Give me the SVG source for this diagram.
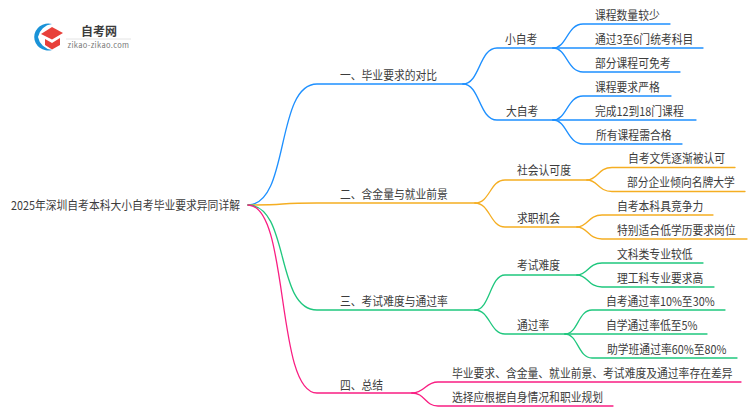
<svg xmlns="http://www.w3.org/2000/svg" width="750" height="410" viewBox="0 0 750 410">
<style>
text{font-family:"Noto Sans CJK SC","Noto Sans",sans-serif;font-size:12px;fill:#3c3c3c}
.c path{fill:none;stroke-width:1.3;stroke-linecap:round}
.b path{stroke:#1e90ff}.o path{stroke:#f5ae22}.g path{stroke:#1fc77e}.p path{stroke:#f91e82}
</style>
<rect width="750" height="410" fill="#fff"/>
<g id="logo">
<path d="M52 24A14 13.500 0 1 0 52 50A16 16 0 0 1 38 37A16 16 0 0 1 52 24Z" fill="#1a93d8"/>
<path d="M41 34L52 27L63 33L52 39.500Z" fill="#e8403a"/>
<path d="M45 39L52 43L60 38V45L52 49.500L45 45Z" fill="#e8403a"/>
<text x="81" y="36" style="font-size:12px;font-weight:700">自考网</text>
<path d="M66 39H131" stroke="#e4e4e4" stroke-width="1"/>
<text x="67.500" y="48" style="font-size:7.5px;fill:#777;letter-spacing:.35px">zikao-zikao.com</text>
</g>
<g id="connectors" class="c">
<g class="b">
<path d="M248 205C290 205 275 84 317 84H463"/>
<path d="M463 84C480 84 479 48 497 48H553"/>
<path d="M463 84C480 84 479 120 497 120H553"/>
<path d="M553 48C567 48 567 24 583 24H670"/>
<path d="M553 48H703"/>
<path d="M553 48C567 48 567 72 583 72H680"/>
<path d="M553 120C567 120 567 96 583 96H671"/>
<path d="M553 120H696"/>
<path d="M553 120C567 120 567 144 583 144H682"/>
</g>
<g class="o">
<path d="M248 205C290 205 275 203 317 203H475"/>
<path d="M475 203C490 203 490 180 505 180H587"/>
<path d="M475 203C490 203 490 227 505 227H577"/>
<path d="M587 180C598 180 598 167.500 612 167.500H735"/>
<path d="M587 180C598 180 598 191.500 612 191.500H745"/>
<path d="M577 227C588 227 588 215 602 215H713"/>
<path d="M577 227C588 227 588 239 602 239H747"/>
</g>
<g class="g">
<path d="M248 205C290 205 275 310 317 310H475"/>
<path d="M475 310C490 310 490 275 505 275H577"/>
<path d="M475 310C490 310 490 334 505 334H565"/>
<path d="M577 275C588 275 588 263 602 263H703"/>
<path d="M577 275C588 275 588 287 602 287H714"/>
<path d="M565 334C578 334 578 310 592 310H725"/>
<path d="M565 334H707"/>
<path d="M565 334C578 334 578 358 592 358H737"/>
</g>
<g class="p">
<path d="M248 205C290 205 275 393 317 393H412"/>
<path d="M412 393C425 393 425 382 438 382H741"/>
<path d="M412 393C425 393 425 406 438 406H613"/>
</g>
</g>
<g id="root"><text transform="translate(11 210) scale(.9 1)">2025年深圳自考本科大小自考毕业要求异同详解</text></g>
<g id="n1"><text transform="translate(340 79.500) scale(.9 1)">一、毕业要求的对比</text></g>
<g id="n2"><text transform="translate(340 198.500) scale(.9 1)">二、含金量与就业前景</text></g>
<g id="n3"><text transform="translate(340 305.500) scale(.9 1)">三、考试难度与通过率</text></g>
<g id="n4"><text transform="translate(340 389.500) scale(.9 1)">四、总结</text></g>
<g id="n11"><text transform="translate(505 43.500) scale(.9 1)">小自考</text></g>
<g id="n12"><text transform="translate(506 115.500) scale(.9 1)">大自考</text></g>
<g id="n21"><text transform="translate(517 175) scale(.9 1)">社会认可度</text></g>
<g id="n22"><text transform="translate(517 222.500) scale(.9 1)">求职机会</text></g>
<g id="n31"><text transform="translate(517 270) scale(.9 1)">考试难度</text></g>
<g id="n32"><text transform="translate(517 329.500) scale(.9 1)">通过率</text></g>
<g id="l1"><text transform="translate(595 19.500) scale(.9 1)">课程数量较少</text></g>
<g id="l2"><text transform="translate(595 43.500) scale(.9 1)">通过3至6门统考科目</text></g>
<g id="l3"><text transform="translate(595 67.500) scale(.9 1)">部分课程可免考</text></g>
<g id="l4"><text transform="translate(595 91.500) scale(.9 1)">课程要求严格</text></g>
<g id="l5"><text transform="translate(595 115.500) scale(.9 1)">完成12到18门课程</text></g>
<g id="l6"><text transform="translate(596 139.500) scale(.9 1)">所有课程需合格</text></g>
<g id="l7"><text transform="translate(628 163) scale(.9 1)">自考文凭逐渐被认可</text></g>
<g id="l8"><text transform="translate(627 186.500) scale(.9 1)">部分企业倾向名牌大学</text></g>
<g id="l9"><text transform="translate(617 210.500) scale(.9 1)">自考本科具竞争力</text></g>
<g id="l10"><text transform="translate(617 234.500) scale(.9 1)">特别适合低学历要求岗位</text></g>
<g id="l11"><text transform="translate(617 258.500) scale(.9 1)">文科类专业较低</text></g>
<g id="l12"><text transform="translate(617 282.500) scale(.9 1)">理工科专业要求高</text></g>
<g id="l13"><text transform="translate(606 305.500) scale(.9 1)">自考通过率10%至30%</text></g>
<g id="l14"><text transform="translate(606 329.500) scale(.9 1)">自学通过率低至5%</text></g>
<g id="l15"><text transform="translate(607 353.500) scale(.9 1)">助学班通过率60%至80%</text></g>
<g id="l16"><text transform="translate(452 377.500) scale(.9 1)">毕业要求、含金量、就业前景、考试难度及通过率存在差异</text></g>
<g id="l17"><text transform="translate(452 401.500) scale(.9 1)">选择应根据自身情况和职业规划</text></g>
</svg>
